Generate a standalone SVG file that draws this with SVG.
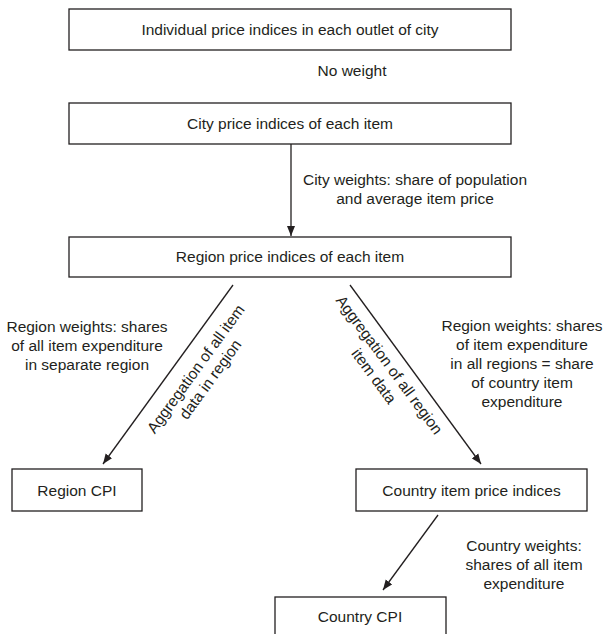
<svg xmlns="http://www.w3.org/2000/svg" width="604" height="634" viewBox="0 0 604 634">
<defs>
<marker id="ah" viewBox="0 0 10 10" refX="10" refY="5" markerWidth="10" markerHeight="10" markerUnits="userSpaceOnUse" orient="auto">
<path d="M0,1 L10,5 L0,9 Z" fill="#231f20"/>
</marker>
<style>
.box{fill:#fff;stroke:#231f20;stroke-width:1.3}
.t{font-family:"Liberation Sans",Arial,sans-serif;font-size:15.5px;fill:#231f20;text-anchor:middle}
.c{stroke:#231f20;stroke-width:1.3;fill:none;marker-end:url(#ah)}
</style>
</defs>
<rect width="604" height="634" fill="#fff"/>
<g id="n1"><rect class="box" x="69" y="9" width="442" height="41"/><text class="t" x="290" y="35">Individual price indices in each outlet of city</text></g>
<g id="n2"><rect class="box" x="69" y="103" width="442" height="41"/><text class="t" x="290" y="129">City price indices of each item</text></g>
<g id="n3"><rect class="box" x="69" y="237" width="442" height="40"/><text class="t" x="290" y="262">Region price indices of each item</text></g>
<g id="n4"><rect class="box" x="12" y="469" width="130" height="42"/><text class="t" x="77" y="496">Region CPI</text></g>
<g id="n5"><rect class="box" x="356" y="469" width="231" height="42"/><text class="t" x="471.5" y="496">Country item price indices</text></g>
<g id="n6"><rect class="box" x="275" y="597" width="171" height="50"/><text class="t" x="360" y="622">Country CPI</text></g>
<g id="connectors">
<line class="c" x1="291" y1="144" x2="291" y2="236"/>
<line class="c" x1="233" y1="285" x2="103" y2="464"/>
<line class="c" x1="350" y1="285" x2="481" y2="464"/>
<line class="c" x1="438" y1="515" x2="383" y2="590"/>
</g>
<g id="labels">
<text class="t" x="352" y="76">No weight</text>
<text class="t" x="415" y="185">City weights: share of population</text>
<text class="t" x="415" y="204">and average item price</text>
<text class="t" x="87" y="332">Region weights: shares</text>
<text class="t" x="87" y="351">of all item expenditure</text>
<text class="t" x="87" y="370">in separate region</text>
<text class="t" x="522" y="331">Region weights: shares</text>
<text class="t" x="522" y="350">of item expenditure</text>
<text class="t" x="522" y="369">in all regions = share</text>
<text class="t" x="522" y="388">of country item</text>
<text class="t" x="522" y="407">expenditure</text>
<text class="t" x="524" y="551">Country weights:</text>
<text class="t" x="524" y="570">shares of all item</text>
<text class="t" x="524" y="589">expenditure</text>
<text class="t" transform="translate(200,372) rotate(-54)"><tspan x="0" y="0">Aggregation of all item</tspan><tspan x="0" y="18">data in region</tspan></text>
<text class="t" transform="translate(385,368) rotate(53.6)"><tspan x="0" y="0">Aggregation of all region</tspan><tspan x="0" y="19">item data</tspan></text>
</g>
</svg>
